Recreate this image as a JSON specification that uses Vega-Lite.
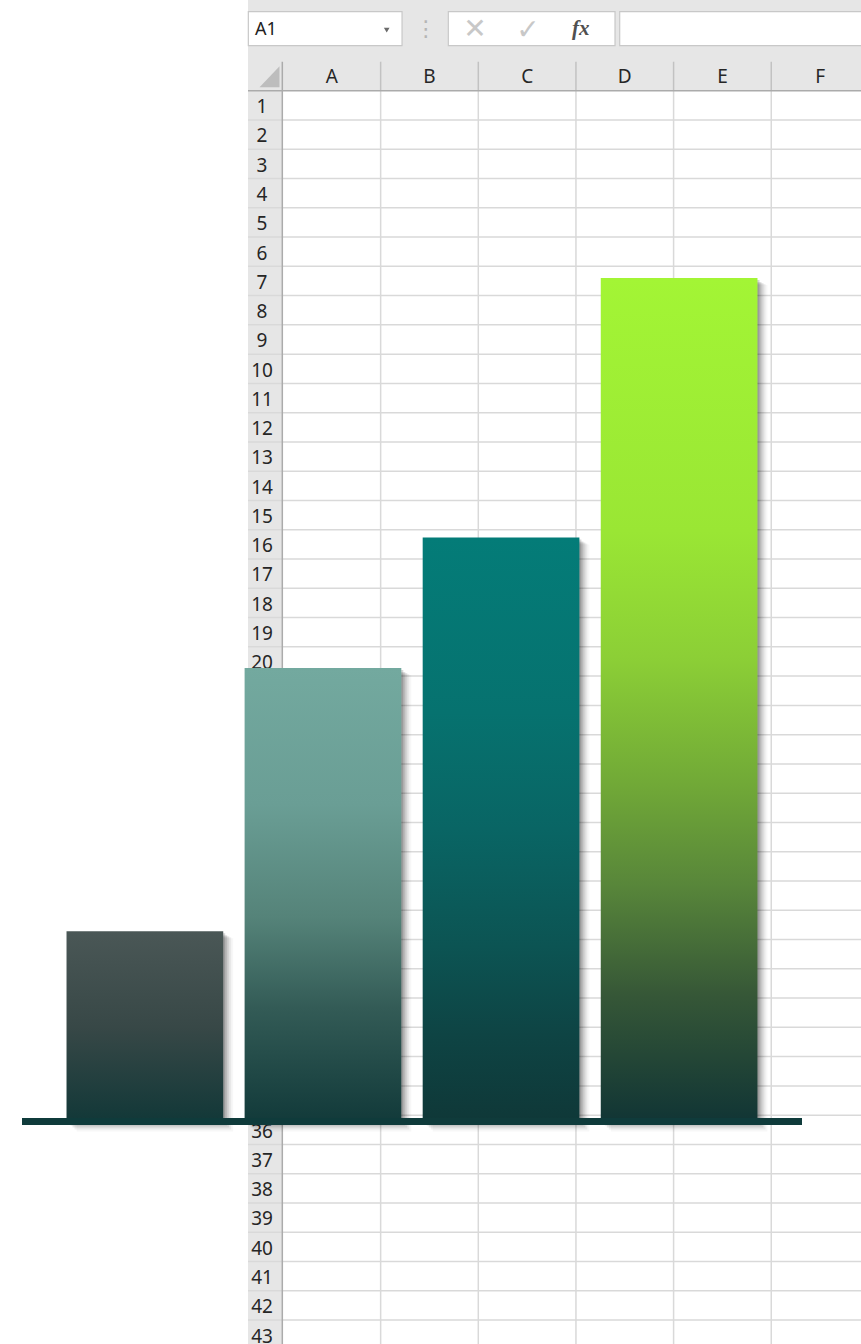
{
  "$schema": "https://vega.github.io/schema/vega-lite/v6.json",
  "width": 780,
  "height": 1344,
  "autosize": {"type": "none"},
  "padding": {"left": 22, "right": 59, "top": 0, "bottom": 0},
  "background": "#ffffff",
  "config": {"view": {"stroke": null}, "text": {"font": "Noto Sans"}},
  "datasets": {
    "bars": [
      {"cat": "1", "value": 20.3},
      {"cat": "2", "value": 48.4},
      {"cat": "3", "value": 62.3},
      {"cat": "4", "value": 90}
    ],
    "rows": [
      {"row": 1}, {"row": 2}, {"row": 3}, {"row": 4}, {"row": 5}, {"row": 6}, {"row": 7}, {"row": 8}, {"row": 9}, {"row": 10},
      {"row": 11}, {"row": 12}, {"row": 13}, {"row": 14}, {"row": 15}, {"row": 16}, {"row": 17}, {"row": 18}, {"row": 19}, {"row": 20},
      {"row": 21}, {"row": 22}, {"row": 23}, {"row": 24}, {"row": 25}, {"row": 26}, {"row": 27}, {"row": 28}, {"row": 29}, {"row": 30},
      {"row": 31}, {"row": 32}, {"row": 33}, {"row": 34}, {"row": 35}, {"row": 36}, {"row": 37}, {"row": 38}, {"row": 39}, {"row": 40},
      {"row": 41}, {"row": 42}, {"row": 43}
    ],
    "cols": [
      {"col": "A", "idx": 1}, {"col": "B", "idx": 2}, {"col": "C", "idx": 3},
      {"col": "D", "idx": 4}, {"col": "E", "idx": 5}, {"col": "F", "idx": 6}
    ]
  },
  "layer": [
    {
      "layer": [
        {
          "data": {"values": [{}]},
          "mark": {"type": "rect", "fill": "#e6e6e6"},
          "encoding": {
            "x": {"datum": -0.3584, "type": "quantitative", "scale": {"domain": [-2.6728, 5.3149], "nice": false, "zero": false}, "axis": null},
            "x2": {"datum": 6.2},
            "y": {"datum": -3.0988, "type": "quantitative", "scale": {"domain": [-3.0988, 42.8183], "nice": false, "zero": false, "reverse": true}, "axis": null},
            "y2": {"datum": 0}
          }
        },
        {
          "data": {"values": [{}]},
          "mark": {"type": "rect", "fill": "#e6e6e6"},
          "encoding": {
            "x": {"datum": -0.3584, "type": "quantitative", "scale": {"domain": [-2.6728, 5.3149], "nice": false, "zero": false}, "axis": null},
            "x2": {"datum": 0},
            "y": {"datum": 0, "type": "quantitative", "scale": {"domain": [-3.0988, 42.8183], "nice": false, "zero": false, "reverse": true}, "axis": null},
            "y2": {"datum": 43}
          }
        },
        {
          "data": {"values": [{}]},
          "mark": {"type": "rect", "fill": "#ffffff", "stroke": "#c8c8c8", "strokeWidth": 1.2},
          "encoding": {
            "x": {"datum": -0.355, "type": "quantitative", "scale": {"domain": [-2.6728, 5.3149], "nice": false, "zero": false}, "axis": null},
            "x2": {"datum": 1.219},
            "y": {"datum": -2.699, "type": "quantitative", "scale": {"domain": [-3.0988, 42.8183], "nice": false, "zero": false, "reverse": true}, "axis": null},
            "y2": {"datum": -1.537}
          }
        },
        {
          "data": {"values": [{}]},
          "mark": {"type": "rect", "fill": "#ffffff", "stroke": "#c8c8c8", "strokeWidth": 1.2},
          "encoding": {
            "x": {"datum": 1.693, "type": "quantitative", "scale": {"domain": [-2.6728, 5.3149], "nice": false, "zero": false}, "axis": null},
            "x2": {"datum": 3.4},
            "y": {"datum": -2.699, "type": "quantitative", "scale": {"domain": [-3.0988, 42.8183], "nice": false, "zero": false, "reverse": true}, "axis": null},
            "y2": {"datum": -1.537}
          }
        },
        {
          "data": {"values": [{}]},
          "mark": {"type": "rect", "fill": "#ffffff", "stroke": "#c8c8c8", "strokeWidth": 1.2},
          "encoding": {
            "x": {"datum": 3.448, "type": "quantitative", "scale": {"domain": [-2.6728, 5.3149], "nice": false, "zero": false}, "axis": null},
            "x2": {"datum": 6.3},
            "y": {"datum": -2.699, "type": "quantitative", "scale": {"domain": [-3.0988, 42.8183], "nice": false, "zero": false, "reverse": true}, "axis": null},
            "y2": {"datum": -1.537}
          }
        },
        {
          "data": {"name": "rows"},
          "mark": {"type": "rule", "stroke": "#d9d9d9", "strokeWidth": 1.5},
          "encoding": {
            "x": {"datum": -0.3584, "type": "quantitative", "scale": {"domain": [-2.6728, 5.3149], "nice": false, "zero": false}, "axis": null},
            "x2": {"datum": 6.2},
            "y": {"field": "row", "type": "quantitative", "scale": {"domain": [-3.0988, 42.8183], "nice": false, "zero": false, "reverse": true}, "axis": null}
          }
        },
        {
          "data": {"name": "cols"},
          "mark": {"type": "rule", "stroke": "#d9d9d9", "strokeWidth": 1.5},
          "encoding": {
            "x": {"field": "idx", "type": "quantitative", "scale": {"domain": [-2.6728, 5.3149], "nice": false, "zero": false}, "axis": null},
            "y": {"datum": 0, "type": "quantitative", "scale": {"domain": [-3.0988, 42.8183], "nice": false, "zero": false, "reverse": true}, "axis": null},
            "y2": {"datum": 43}
          }
        },
        {
          "data": {"name": "cols"},
          "mark": {"type": "rule", "stroke": "#c2c2c2", "strokeWidth": 1.5},
          "encoding": {
            "x": {"field": "idx", "type": "quantitative", "scale": {"domain": [-2.6728, 5.3149], "nice": false, "zero": false}, "axis": null},
            "y": {"datum": -0.99, "type": "quantitative", "scale": {"domain": [-3.0988, 42.8183], "nice": false, "zero": false, "reverse": true}, "axis": null},
            "y2": {"datum": 0}
          }
        },
        {
          "data": {"values": [{}]},
          "mark": {"type": "rule", "stroke": "#ababab", "strokeWidth": 1.5},
          "encoding": {
            "x": {"datum": -0.3584, "type": "quantitative", "scale": {"domain": [-2.6728, 5.3149], "nice": false, "zero": false}, "axis": null},
            "x2": {"datum": 6.2},
            "y": {"datum": 0, "type": "quantitative", "scale": {"domain": [-3.0988, 42.8183], "nice": false, "zero": false, "reverse": true}, "axis": null}
          }
        },
        {
          "data": {"values": [{}]},
          "mark": {"type": "rule", "stroke": "#ababab", "strokeWidth": 1.5},
          "encoding": {
            "x": {"datum": -0.007, "type": "quantitative", "scale": {"domain": [-2.6728, 5.3149], "nice": false, "zero": false}, "axis": null},
            "y": {"datum": -0.99, "type": "quantitative", "scale": {"domain": [-3.0988, 42.8183], "nice": false, "zero": false, "reverse": true}, "axis": null},
            "y2": {"datum": 43}
          }
        },
        {
          "data": {"values": [{}]},
          "mark": {"type": "point", "shape": "M1,-1.1L1,1L-1,1Z", "filled": true, "fill": "#bdbdbd", "opacity": 1, "size": 400, "strokeWidth": 0},
          "encoding": {
            "x": {"datum": -0.138, "type": "quantitative", "scale": {"domain": [-2.6728, 5.3149], "nice": false, "zero": false}, "axis": null},
            "y": {"datum": -0.461, "type": "quantitative", "scale": {"domain": [-3.0988, 42.8183], "nice": false, "zero": false, "reverse": true}, "axis": null}
          }
        },
        {
          "data": {"name": "cols"},
          "mark": {"type": "text", "fontSize": 19, "color": "#262626", "align": "center", "baseline": "middle", "dx": -48.8},
          "encoding": {
            "x": {"field": "idx", "type": "quantitative", "scale": {"domain": [-2.6728, 5.3149], "nice": false, "zero": false}, "axis": null},
            "y": {"datum": -0.47, "type": "quantitative", "scale": {"domain": [-3.0988, 42.8183], "nice": false, "zero": false, "reverse": true}, "axis": null},
            "text": {"field": "col"}
          }
        },
        {
          "data": {"name": "rows"},
          "mark": {"type": "text", "fontSize": 19, "color": "#262626", "align": "center", "baseline": "middle", "dy": -12.8},
          "encoding": {
            "x": {"datum": -0.215, "type": "quantitative", "scale": {"domain": [-2.6728, 5.3149], "nice": false, "zero": false}, "axis": null},
            "y": {"field": "row", "type": "quantitative", "scale": {"domain": [-3.0988, 42.8183], "nice": false, "zero": false, "reverse": true}, "axis": null},
            "text": {"field": "row"}
          }
        },
        {
          "data": {"values": [{"t": "A1"}]},
          "mark": {"type": "text", "fontSize": 18, "color": "#222222", "align": "left", "baseline": "middle"},
          "encoding": {
            "x": {"datum": -0.287, "type": "quantitative", "scale": {"domain": [-2.6728, 5.3149], "nice": false, "zero": false}, "axis": null},
            "y": {"datum": -2.07, "type": "quantitative", "scale": {"domain": [-3.0988, 42.8183], "nice": false, "zero": false, "reverse": true}, "axis": null},
            "text": {"field": "t"}
          }
        },
        {
          "data": {"values": [{}]},
          "mark": {"type": "point", "shape": "triangle-down", "filled": true, "fill": "#6b6b6b", "opacity": 1, "size": 32, "strokeWidth": 0},
          "encoding": {
            "x": {"datum": 1.062, "type": "quantitative", "scale": {"domain": [-2.6728, 5.3149], "nice": false, "zero": false}, "axis": null},
            "y": {"datum": -2.07, "type": "quantitative", "scale": {"domain": [-3.0988, 42.8183], "nice": false, "zero": false, "reverse": true}, "axis": null}
          }
        },
        {
          "data": {"values": [{"t": "⋮"}]},
          "mark": {"type": "text", "font": "DejaVu Sans", "fontSize": 22, "color": "#b5b5b5", "align": "center", "baseline": "middle"},
          "encoding": {
            "x": {"datum": 1.461, "type": "quantitative", "scale": {"domain": [-2.6728, 5.3149], "nice": false, "zero": false}, "axis": null},
            "y": {"datum": -2.1, "type": "quantitative", "scale": {"domain": [-3.0988, 42.8183], "nice": false, "zero": false, "reverse": true}, "axis": null},
            "text": {"field": "t"}
          }
        },
        {
          "data": {"values": [{"t": "✕"}]},
          "mark": {"type": "text", "font": "DejaVu Sans", "fontSize": 28, "color": "#c8c8c8", "align": "center", "baseline": "middle"},
          "encoding": {
            "x": {"datum": 1.966, "type": "quantitative", "scale": {"domain": [-2.6728, 5.3149], "nice": false, "zero": false}, "axis": null},
            "y": {"datum": -2.07, "type": "quantitative", "scale": {"domain": [-3.0988, 42.8183], "nice": false, "zero": false, "reverse": true}, "axis": null},
            "text": {"field": "t"}
          }
        },
        {
          "data": {"values": [{"t": "✓"}]},
          "mark": {"type": "text", "font": "DejaVu Sans", "fontSize": 28, "color": "#c8c8c8", "align": "center", "baseline": "middle"},
          "encoding": {
            "x": {"datum": 2.509, "type": "quantitative", "scale": {"domain": [-2.6728, 5.3149], "nice": false, "zero": false}, "axis": null},
            "y": {"datum": -2.03, "type": "quantitative", "scale": {"domain": [-3.0988, 42.8183], "nice": false, "zero": false, "reverse": true}, "axis": null},
            "text": {"field": "t"}
          }
        },
        {
          "data": {"values": [{"t": "fx"}]},
          "mark": {"type": "text", "font": "Liberation Serif", "fontStyle": "italic", "fontWeight": "bold", "fontSize": 21, "color": "#505050", "align": "center", "baseline": "middle"},
          "encoding": {
            "x": {"datum": 3.049, "type": "quantitative", "scale": {"domain": [-2.6728, 5.3149], "nice": false, "zero": false}, "axis": null},
            "y": {"datum": -2.1, "type": "quantitative", "scale": {"domain": [-3.0988, 42.8183], "nice": false, "zero": false, "reverse": true}, "axis": null},
            "text": {"field": "t"}
          }
        }
      ]
    },
    {
      "layer": [
        {
          "data": {"name": "bars"},
          "encoding": {
            "x": {"field": "cat", "type": "nominal", "scale": {"domain": ["1", "2", "3", "4"], "paddingInner": 0.12, "paddingOuter": 0.25, "align": 0.5}, "axis": null},
            "y": {"field": "value", "type": "quantitative", "scale": {"domain": [-23.74, 119.66], "nice": false, "zero": false}, "axis": null},
            "y2": {"datum": 0}
          },
          "layer": [
            {"mark": {"type": "bar", "fill": "#000000", "fillOpacity": 0.16, "xOffset": 2, "yOffset": 2, "y2Offset": 2}},
            {"mark": {"type": "bar", "fill": "#000000", "fillOpacity": 0.12, "xOffset": 4, "yOffset": 4, "y2Offset": 4}},
            {"mark": {"type": "bar", "fill": "#000000", "fillOpacity": 0.09, "xOffset": 6, "yOffset": 5, "y2Offset": 6}},
            {"mark": {"type": "bar", "fill": "#000000", "fillOpacity": 0.06, "xOffset": 8, "yOffset": 6, "y2Offset": 8}},
            {"mark": {"type": "bar", "fill": "#000000", "fillOpacity": 0.03, "xOffset": 10, "yOffset": 7, "y2Offset": 10}},
            {
              "transform": [{"filter": "datum.cat === '1'"}],
              "mark": {"type": "bar", "fillOpacity": 1, "fill": {"gradient": "linear", "x1": 0, "y1": 0, "x2": 0, "y2": 1, "stops": [{"offset": 0, "color": "#4a5756"}, {"offset": 0.5, "color": "#384847"}, {"offset": 1, "color": "#123838"}]}}
            },
            {
              "transform": [{"filter": "datum.cat === '2'"}],
              "mark": {"type": "bar", "fillOpacity": 1, "fill": {"gradient": "linear", "x1": 0, "y1": 0, "x2": 0, "y2": 1, "stops": [{"offset": 0, "color": "#73a99f"}, {"offset": 0.3, "color": "#6a9e95"}, {"offset": 0.55, "color": "#558379"}, {"offset": 0.75, "color": "#335b56"}, {"offset": 1, "color": "#123a3a"}]}}
            },
            {
              "transform": [{"filter": "datum.cat === '3'"}],
              "mark": {"type": "bar", "fillOpacity": 1, "fill": {"gradient": "linear", "x1": 0, "y1": 0, "x2": 0, "y2": 1, "stops": [{"offset": 0, "color": "#047c78"}, {"offset": 0.3, "color": "#06726f"}, {"offset": 0.5, "color": "#096564"}, {"offset": 0.7, "color": "#0c5453"}, {"offset": 0.85, "color": "#0e4444"}, {"offset": 1, "color": "#0f3838"}]}}
            },
            {
              "transform": [{"filter": "datum.cat === '4'"}],
              "mark": {"type": "bar", "fillOpacity": 1, "fill": {"gradient": "linear", "x1": 0, "y1": 0, "x2": 0, "y2": 1, "stops": [{"offset": 0, "color": "#a3f535"}, {"offset": 0.3, "color": "#9ae634"}, {"offset": 0.45, "color": "#8ccf36"}, {"offset": 0.6, "color": "#71a937"}, {"offset": 0.72, "color": "#58863a"}, {"offset": 0.85, "color": "#365737"}, {"offset": 1, "color": "#113535"}]}}
            }
          ]
        },
        {
          "data": {"values": [{}]},
          "mark": {"type": "rule", "stroke": "#0f3b3b", "strokeWidth": 7, "strokeCap": "butt"},
          "encoding": {
            "y": {"datum": 0, "type": "quantitative"}
          }
        }
      ]
    }
  ],
  "resolve": {"scale": {"x": "independent", "y": "independent"}}
}
